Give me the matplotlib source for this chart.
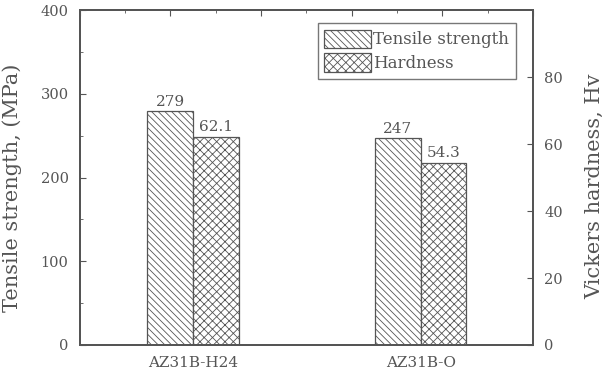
import numpy as np
import matplotlib
matplotlib.use("Agg")
import matplotlib.pyplot as plt
from matplotlib.ticker import MultipleLocator

alloys = ["AZ31B-H24", "AZ31B-O"]
tensile = [279, 247]
hardness = [62.1, 54.3]
tensile_labels = ["279", "247"]
hardness_labels = ["62.1", "54.3"]

plt.rcParams['font.family'] = ['DejaVu Serif']
plt.rcParams['hatch.linewidth'] = 0.6
plt.rcParams['hatch.color'] = '#666666'
txt = '#555555'
edge = '#555555'

fig = plt.figure(figsize=(6.06, 3.72), dpi=100)
ax = fig.add_axes([0.1314, 0.0726, 0.748, 0.9004])
ax2 = ax.twinx()
axt = ax.twiny()

x = np.arange(len(alloys))
w = 0.2
b1 = ax.bar(x - w / 2, tensile, w, facecolor='white', edgecolor=edge,
            linewidth=0.9, hatch='\\\\\\\\\\', label='Tensile strength')
b2 = ax2.bar(x + w / 2, hardness, w, facecolor='white', edgecolor=edge,
             linewidth=0.9, hatch='xxxx', label='Hardness')

for xi, v, s in zip(x, tensile, tensile_labels):
    ax.text(xi - w / 2, v + 3, s, ha='center', va='bottom', fontsize=11, color=txt)
for xi, v, s in zip(x, hardness, hardness_labels):
    ax2.text(xi + w / 2, v + 0.8, s, ha='center', va='bottom', fontsize=11, color=txt)

ax.set_xlim(-0.498, 1.4925)
ax.set_ylim(0, 400)
ax2.set_ylim(0, 100)
ax.set_xticks(x)
ax.set_xticklabels(alloys, fontsize=11, color=txt)
ax.tick_params(axis='x', length=0, pad=8)
ax.yaxis.set_major_locator(MultipleLocator(100))
ax.yaxis.set_minor_locator(MultipleLocator(50))
ax.tick_params(axis='y', which='major', direction='in', length=4, labelsize=10.5,
               labelcolor=txt, color=edge, pad=8)
ax.tick_params(axis='y', which='minor', direction='in', length=2, color=edge)
ax2.set_yticks([0, 20, 40, 60, 80])
ax2.tick_params(axis='y', direction='in', length=4, labelsize=10.5,
                labelcolor=txt, color=edge, pad=8)

axt.set_xlim(0, 10)
axt.xaxis.set_major_locator(MultipleLocator(2))
axt.xaxis.set_minor_locator(MultipleLocator(1))
axt.tick_params(axis='x', which='major', direction='in', length=4, color=edge, labeltop=False)
axt.tick_params(axis='x', which='minor', direction='in', length=2, color=edge)

for a in (ax, ax2, axt):
    for sp in a.spines.values():
        sp.set_color(edge)
        sp.set_linewidth(1.4)

ax.set_ylabel('Tensile strength, (MPa)', fontsize=15, color=txt, labelpad=13)
ax2.set_ylabel('Vickers hardness, Hv', fontsize=15, color=txt, labelpad=16)
ax.yaxis.label.set_y(0.469)
ax2.yaxis.label.set_y(0.475)

leg = ax.legend([b1, b2], ['Tensile strength', 'Hardness'], loc='upper right',
                bbox_to_anchor=(0.981, 0.986), fontsize=12, frameon=True,
                fancybox=False, edgecolor=edge, handlelength=2.8, handleheight=1.3,
                handletextpad=0.15, borderpad=0.4, labelspacing=0.3)
leg.get_frame().set_linewidth(1.0)
for t in leg.get_texts():
    t.set_color(txt)

fig.savefig('out.png', dpi=100)
